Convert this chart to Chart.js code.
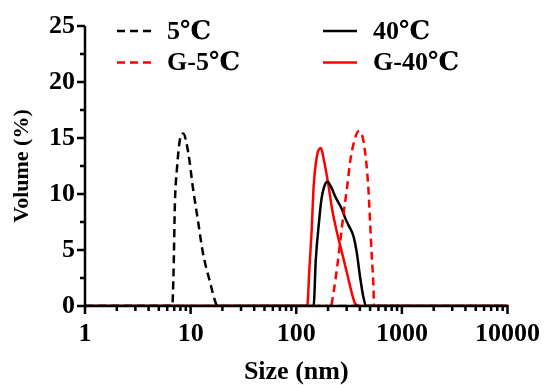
<!DOCTYPE html>
<html lang="en">
<head>
<meta charset="UTF-8">
<title>Size distribution</title>
<script src="https://cdn.jsdelivr.net/npm/chart.js"></script>
<style>
  body { margin: 0; background: #fff; }
  #wrap { width: 553px; height: 385px; }
</style>
</head>
<body>
<div id="wrap"><canvas id="dls"></canvas></div>
<script>
// size (nm) and volume (%)
const size5 = [1, 6.7, 6.9, 7.1, 7.4, 7.9, 8.5, 9.5, 10.5, 11.7, 13.1, 15.1, 17.4, 18, 10000];
const vol5 = [0, 0, 3.2, 9.2, 12.1, 14.8, 15.4, 13.7, 10.6, 7.7, 4.7, 2.3, 0.2, 0, 0];

const sizeG5 = [1, 212, 227, 244, 262, 281, 303, 325, 354, 388, 427, 458, 481, 499, 517, 535, 547, 10000];
const volG5 = [0, 0, 1.4, 3.5, 5.9, 8.3, 10.6, 13.0, 14.7, 15.6, 15.0, 13.0, 10.6, 7.7, 4.7, 2.3, 0, 0];

const size40 = [1, 146, 153, 165, 173, 183, 197, 212, 236, 272, 292, 313, 349, 375, 402, 432, 458, 10000];
const vol40 = [0, 0, 4.1, 7.7, 9.5, 10.6, 11.1, 10.7, 9.7, 8.6, 7.8, 7.2, 6.2, 4.7, 2.6, 0.8, 0, 0];

const sizeG40 = [1, 127, 133, 140, 146, 157, 171, 183, 200, 219, 244, 272, 303, 337, 362, 402, 10000];
const volG40 = [0, 0, 3.2, 6.8, 10.6, 13.4, 14.1, 13.0, 11.0, 8.6, 6.5, 4.7, 2.9, 1.1, 0.2, 0, 0];

const xMajor = [1, 10, 100, 1000, 10000];
const yMajor = [0, 5, 10, 15, 20, 25];

const FONT = "'Liberation Serif', 'Times New Roman', 'DejaVu Serif', serif";

function pts(xs, ys) {
    return xs.map((x, i) => ({ x: x, y: ys[i] }));
}

// axes + ticks drawn on top of the curves, like the original
const axesPlugin = {
    id: 'axes',
    afterDatasetsDraw(chart) {
        const { ctx, chartArea: a, scales: { x, y } } = chart;
        ctx.save();
        ctx.strokeStyle = '#000';
        ctx.lineWidth = 2.5;
        ctx.lineCap = 'butt';
        ctx.beginPath();
        ctx.moveTo(a.left, a.top);
        ctx.lineTo(a.left, a.bottom);
        ctx.moveTo(a.left - 1.25, a.bottom);
        ctx.lineTo(a.right + 1.25, a.bottom);

        // x ticks (major + minor of each decade)
        for (let d = 1; d < 10000; d *= 10) {
            for (let m = 2; m <= 9; m++) {
                const px = x.getPixelForValue(d * m);
                ctx.moveTo(px, a.bottom);
                ctx.lineTo(px, a.bottom + 5);
            }
        }
        xMajor.forEach(v => {
            const px = x.getPixelForValue(v);
            ctx.moveTo(px, a.bottom);
            ctx.lineTo(px, a.bottom + 8);
        });
        // y ticks
        yMajor.forEach(v => {
            const py = y.getPixelForValue(v);
            ctx.moveTo(a.left, py);
            ctx.lineTo(a.left - 8, py);
            if (v < 25) {
                const pm = y.getPixelForValue(v + 2.5);
                ctx.moveTo(a.left, pm);
                ctx.lineTo(a.left - 5, pm);
            }
        });
        ctx.stroke();
        ctx.restore();
    },
    afterDraw(chart) {
        const { ctx } = chart;
        const items = [
            { ds: 0, x: 117, y: 31 },
            { ds: 1, x: 117, y: 62.5 },
            { ds: 2, x: 323, y: 31 },
            { ds: 3, x: 323, y: 62.5 }
        ];
        ctx.save();
        items.forEach(it => {
            const ds = chart.data.datasets[it.ds];
            ctx.strokeStyle = ds.borderColor;
            ctx.lineWidth = ds.borderWidth;
            ctx.setLineDash(ds.borderDash || []);
            ctx.beginPath();
            ctx.moveTo(it.x, it.y);
            ctx.lineTo(it.x + 34, it.y);
            ctx.stroke();
            ctx.setLineDash([]);
            ctx.fillStyle = '#000';
            ctx.font = 'bold 26px ' + FONT;
            ctx.textBaseline = 'middle';
            ctx.textAlign = 'left';
            ctx.fillText(ds.label, it.x + 50, it.y + 1);
        });
        ctx.restore();
    }
};

new Chart(document.getElementById('dls'), {
    type: 'line',
    data: {
        datasets: [
            { label: '5℃', data: pts(size5, vol5), borderColor: '#000', borderDash: [8, 5] },
            { label: 'G-5℃', data: pts(sizeG5, volG5), borderColor: '#ff0000', borderDash: [8, 5] },
            { label: '40℃', data: pts(size40, vol40), borderColor: '#000' },
            { label: 'G-40℃', data: pts(sizeG40, volG40), borderColor: '#ff0000' }
        ].map(d => Object.assign({
            borderWidth: 2.5,
            pointRadius: 0,
            fill: false,
            cubicInterpolationMode: 'monotone'
        }, d))
    },
    options: {
        responsive: true,
        maintainAspectRatio: false,
        animation: false,
        layout: { padding: { left: 0, top: 26, right: 38, bottom: 0 } },
        plugins: { legend: { display: false }, tooltip: { enabled: false } },
        scales: {
            x: {
                type: 'logarithmic',
                min: 1,
                max: 10000,
                afterBuildTicks: s => { s.ticks = xMajor.map(v => ({ value: v })); },
                afterFit: s => { s.height = 79; },
                grid: { display: false, drawTicks: false },
                border: { display: false },
                ticks: {
                    autoSkip: false,
                    maxRotation: 0,
                    padding: 13,
                    color: '#000',
                    font: { family: FONT, size: 26, weight: 'bold' },
                    callback: v => String(v)
                },
                title: {
                    display: true,
                    text: 'Size (nm)',
                    color: '#000',
                    padding: { top: 0, bottom: 0 },
                    font: { family: FONT, size: 26, weight: 'bold', lineHeight: 1 }
                }
            },
            y: {
                min: 0,
                max: 25,
                afterBuildTicks: s => { s.ticks = yMajor.map(v => ({ value: v })); },
                afterFit: s => { s.width = 85; },
                grid: { display: false, drawTicks: false },
                border: { display: false },
                ticks: {
                    padding: 10,
                    color: '#000',
                    font: { family: FONT, size: 26, weight: 'bold' }
                },
                title: {
                    display: true,
                    text: 'Volume (%)',
                    color: '#000',
                    padding: { top: 11, bottom: 0 },
                    font: { family: FONT, size: 22, weight: 'bold', lineHeight: 1 }
                }
            }
        }
    },
    plugins: [axesPlugin]
});
</script>
</body>
</html>
